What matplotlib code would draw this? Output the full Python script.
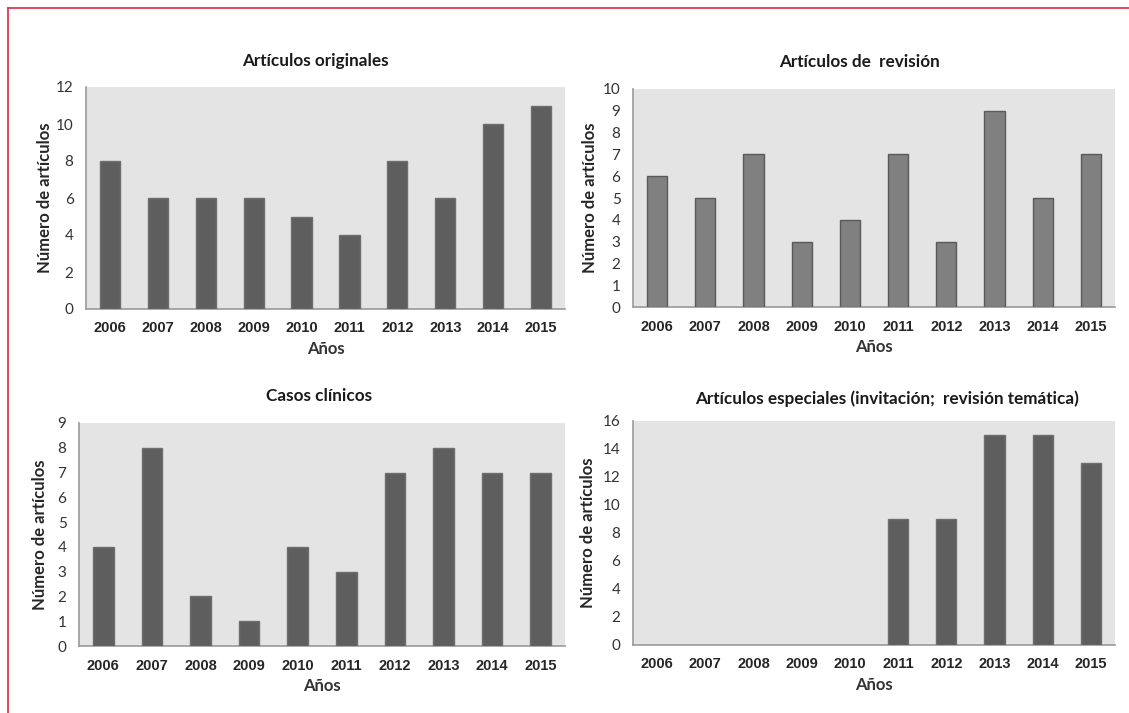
import matplotlib.pyplot as plt
from matplotlib.lines import Line2D

years = ['2006', '2007', '2008', '2009', '2010', '2011', '2012', '2013', '2014', '2015']
originales = [8, 6, 6, 6, 5, 4, 8, 6, 10, 11]
revision = [6, 5, 7, 3, 4, 7, 3, 9, 5, 7]
clinicos = [4, 8, 2, 1, 4, 3, 7, 8, 7, 7]
especiales = [0, 0, 0, 0, 0, 9, 9, 15, 15, 13]

titles = ['Artículos originales', 'Artículos de  revisión',
          'Casos clínicos', 'Artículos especiales (invitación;  revisión temática)']

W, H = 1129, 713
fig = plt.figure(figsize=(W / 100, H / 100), dpi=100, facecolor='white')

def px_axes(l, t, r, b):
    return fig.add_axes([l / W, 1 - b / H, (r - l) / W, (b - t) / H])

# box (l, t, r, b) px, data, bar colour, edge, ymax, step, title pad, title x, ylabel x
panels = [
    ((86, 87, 565, 309), originales, '#5e5e5e', '#6e6e6e', 12, 2, 15, 0.478, -0.069),
    ((633, 89, 1115, 307), revision, '#808080', '#5a5a5a', 10, 1, 16, 0.469, -0.073),
    ((79, 423, 565, 646), clinicos, '#5e5e5e', '#6e6e6e', 9, 1, 16, 0.494, -0.064),
    ((633, 421, 1115, 645), especiales, '#5e5e5e', '#6e6e6e', 16, 2, 12, 0.526, -0.077),
]

for (box, vals, col, edge, ymax, step, pad, tx, lx), title in zip(panels, titles):
    ax = px_axes(*box)
    ax.set_facecolor('#e4e4e4')
    x = range(len(years))
    edges = [edge if v > 0 else 'none' for v in vals]
    ax.bar(x, vals, width=0.42, color=col, edgecolor=edges, linewidth=1.0, zorder=3)
    ax.set_xlim(-0.5, len(years) - 0.5)
    ax.set_ylim(0, ymax)
    ax.set_yticks(range(0, ymax + 1, step))
    ax.set_xticks(list(x))
    ax.set_xticklabels(years, fontfamily='Liberation Sans', fontweight='bold',
                       fontsize=10.5, color='#262626')
    for lab in ax.get_yticklabels():
        lab.set_fontfamily('Lato')
        lab.set_fontsize(11)
        lab.set_color('#333333')
    ax.tick_params(length=0, pad=9)
    ax.tick_params(axis='x', pad=9)
    for s in ['top', 'right']:
        ax.spines[s].set_visible(False)
    for s in ['left', 'bottom']:
        ax.spines[s].set_color('#9a9a9a')
        ax.spines[s].set_linewidth(1.2)
    ax.set_title(title, fontfamily='Lato', fontweight='bold', fontsize=12.3,
                 color='#1a1a1a', pad=pad, x=tx)
    ax.set_xlabel('Años', fontfamily='Lato', fontweight='bold', fontsize=12,
                  color='#333333', labelpad=4)
    ax.set_ylabel('Número de artículos', fontfamily='Lato', fontweight='bold',
                  fontsize=12, color='#262626')
    ax.yaxis.set_label_coords(lx, 0.5)

# red page frame lines (top and left)
red = '#e8354f'
fig.add_artist(Line2D([8 / W, 1], [1 - 8 / H, 1 - 8 / H], color=red, linewidth=1.3,
                      transform=fig.transFigure))
fig.add_artist(Line2D([8 / W, 8 / W], [1 - 8 / H, 0], color=red, linewidth=1.3,
                      transform=fig.transFigure))

fig.savefig('out.png', dpi=100, facecolor='white')
